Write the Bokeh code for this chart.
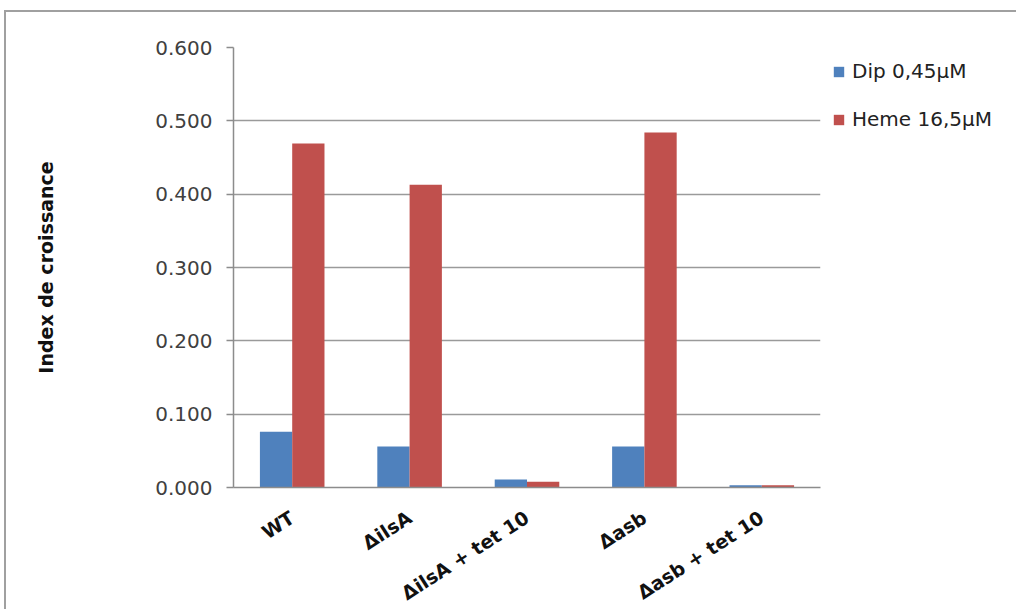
from bokeh.plotting import figure
from bokeh.models import (FactorRange, Range1d, Legend, LegendItem, FixedTicker,
                          NumeralTickFormatter, ColumnDataSource)
from bokeh.transform import dodge
from bokeh.embed import file_html
from bokeh.resources import INLINE

categories = ["WT", "ΔilsA", "ΔilsA + tet 10", "Δasb", "Δasb + tet 10"]
dip = [0.076, 0.056, 0.011, 0.056, 0.003]
heme = [0.469, 0.413, 0.008, 0.484, 0.003]
series_names = ["Dip 0,45µM", "Heme 16,5µM"]
y_ticks = [0.0, 0.1, 0.2, 0.3, 0.4, 0.5, 0.6]
y_title = "Index de croissance"

src = ColumnDataSource(dict(cat=categories, dip=dip, heme=heme))

p = figure(x_range=FactorRange(*categories, range_padding=0), y_range=Range1d(0, 0.6),
           width=1002, height=591, output_backend="svg", toolbar_location=None,
           min_border_left=227, min_border_top=35, min_border_right=188, min_border_bottom=116)
p.frame_width = 587
p.frame_height = 440
p.outline_line_color = None
p.styles = {"border-top": "2px solid #a0a0a0", "border-left": "2px solid #a0a0a0",
            "margin-left": "4px", "margin-top": "10px"}

r1 = p.vbar(x=dodge("cat", -0.1375, range=p.x_range), top="dip", width=0.275, source=src,
            fill_color="#4F81BD", line_color=None)
r2 = p.vbar(x=dodge("cat", 0.1375, range=p.x_range), top="heme", width=0.275, source=src,
            fill_color="#C0504D", line_color=None)

# y axis
p.yaxis.ticker = FixedTicker(ticks=y_ticks)
p.yaxis.formatter = NumeralTickFormatter(format="0.000")
p.yaxis.minor_tick_line_color = None
p.yaxis.major_tick_in = 0
p.yaxis.major_tick_out = 7
p.yaxis.major_tick_line_color = "#8c8c8c"
p.yaxis.major_tick_line_width = 1.5
p.yaxis.axis_line_color = "#8c8c8c"
p.yaxis.axis_line_width = 1.5
p.yaxis.major_label_text_font = "DejaVu Sans"
p.yaxis.major_label_text_font_size = "20px"
p.yaxis.major_label_text_color = "#404040"
p.yaxis.major_label_standoff = 14
p.yaxis.axis_label = y_title
p.yaxis.axis_label_text_font = "DejaVu Sans"
p.yaxis.axis_label_text_font_style = "bold"
p.yaxis.axis_label_text_font_size = "19px"
p.yaxis.axis_label_text_color = "#111111"
p.yaxis.axis_label_standoff = 95

# x axis
p.xaxis.axis_line_color = "#8c8c8c"
p.xaxis.axis_line_width = 1.5
p.xaxis.major_tick_line_color = None
p.xaxis.minor_tick_line_color = None
p.xaxis.major_label_orientation = 0.57
p.xaxis.major_label_text_font = "DejaVu Sans"
p.xaxis.major_label_text_font_style = "bold"
p.xaxis.major_label_text_font_size = "19px"
p.xaxis.major_label_text_color = "#111111"
p.xaxis.major_label_standoff = 22

p.xgrid.grid_line_color = None
p.ygrid.grid_line_color = "#9a9a9a"
p.ygrid.grid_line_width = 1.5

legend = Legend(items=[LegendItem(label=series_names[0], renderers=[r1]),
                       LegendItem(label=series_names[1], renderers=[r2])],
                location="top_left", margin=12, padding=0, spacing=24,
                glyph_width=13, glyph_height=13, label_standoff=7,
                border_line_color=None, background_fill_alpha=0,
                label_text_font="DejaVu Sans", label_text_font_size="20px",
                label_height=23, label_text_color="#222222")
p.add_layout(legend, "right")

open("out.html", "w").write(file_html(p, INLINE))
